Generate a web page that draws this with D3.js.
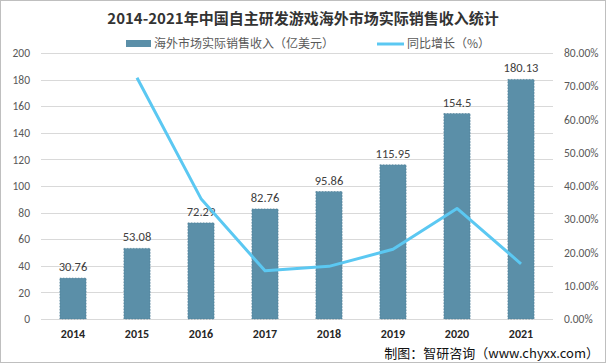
<!DOCTYPE html>
<html><head><meta charset="utf-8">
<script src="https://cdn.jsdelivr.net/npm/d3@7"></script>
<style>
html,body{margin:0;padding:0;background:#fff;}
svg text{font-family:"Microsoft YaHei","Noto Sans CJK SC","DejaVu Sans",sans-serif;}
</style></head>
<body>
<svg id="c" width="606" height="364"></svg>
<script>
const years = ["2014","2015","2016","2017","2018","2019","2020","2021"];
const revenue = [30.76,53.08,72.29,82.76,95.86,115.95,154.5,180.13];
const growth = [null,72.56,36.19,14.48,15.83,20.96,33.25,16.59];
const leftTicks = [0,20,40,60,80,100,120,140,160,180,200];
const rightTicks = [0,10,20,30,40,50,60,70,80];
const title = "2014-2021年中国自主研发游戏海外市场实际销售收入统计";
const legendBar = "海外市场实际销售收入（亿美元）";
const legendLine = "同比增长（%）";
const source = "制图：智研咨询（www.chyxx.com）";

const svg = d3.select("#c");
const W = 606, H = 364;
const m = {l:41, r:53, t:53, b:45};
const x0 = m.l, x1 = W - m.r;

svg.append("rect").attr("x",0.5).attr("y",0.5).attr("width",W-1).attr("height",H-2)
  .attr("fill","#fff").attr("stroke","#bfbfbf");

const x = d3.scaleBand().domain(years).range([x0,x1]).paddingInner(0.59).paddingOuter(0.295);
const yL = d3.scaleLinear().domain([0,200]).range([319,53]);
const yR = d3.scaleLinear().domain([0,80]).range([319,53]);

// gridlines
svg.append("g").selectAll("line").data(leftTicks).join("line")
  .attr("x1",x0).attr("x2",x1).attr("y1",d=>Math.round(yL(d))+0.5).attr("y2",d=>Math.round(yL(d))+0.5)
  .attr("stroke","#d9d9d9").attr("stroke-width",1);

// left axis
const la = svg.append("g").attr("transform",`translate(${x0},0)`)
  .call(d3.axisLeft(yL).tickValues(leftTicks).tickSize(0).tickPadding(11));
la.select(".domain").remove();
la.selectAll("text").attr("fill","#595959").style("font-size","11.5px").style("font-family","Calibri,Carlito,'Liberation Sans',sans-serif");

// right axis
const ra = svg.append("g").attr("transform",`translate(${x1},0)`)
  .call(d3.axisRight(yR).tickValues(rightTicks).tickSize(0).tickPadding(11).tickFormat(d=>d.toFixed(2)+"%"));
ra.select(".domain").remove();
ra.selectAll("text").attr("fill","#595959").style("font-size","11.5px").style("font-family","Calibri,Carlito,'Liberation Sans',sans-serif");

// x axis
const xa = svg.append("g").attr("transform",`translate(0,319)`)
  .call(d3.axisBottom(x).tickSize(0).tickPadding(10));
xa.select(".domain").remove();
xa.selectAll("text").attr("fill","#262626").style("font-size","12px").style("font-weight","bold").style("font-family","Calibri,Carlito,'Liberation Sans',sans-serif");

// bars
svg.append("g").selectAll("rect").data(revenue).join("rect")
  .attr("x",(d,i)=>x(years[i])).attr("width",x.bandwidth())
  .attr("y",d=>yL(d)).attr("height",d=>yL(0)-yL(d))
  .attr("fill","#5b8fa8").attr("stroke","#4a7890").attr("stroke-width",0.6).attr("stroke-dasharray","1.5,1.5");

// bar labels
svg.append("g").selectAll("text").data(revenue).join("text")
  .attr("x",(d,i)=>x(years[i])+x.bandwidth()/2).attr("y",d=>yL(d)-7)
  .attr("text-anchor","middle").attr("fill","#404040").style("font-size","12.5px")
  .style("font-family","Calibri,Carlito,'Liberation Sans',sans-serif")
  .text(d=>d);

// line
const pts = growth.map((g,i)=>({g,i})).filter(d=>d.g!==null);
svg.append("path").datum(pts)
  .attr("d",d3.line().x(d=>x(years[d.i])+x.bandwidth()/2).y(d=>yR(d.g)))
  .attr("fill","none").attr("stroke","#5bc8f2").attr("stroke-width",3).attr("stroke-linejoin","round");

// title
svg.append("text").attr("x",303).attr("y",24).attr("text-anchor","middle")
  .attr("fill","#333").style("font-size","15px").style("font-weight","bold").text(title);

// legend
svg.append("rect").attr("x",126).attr("y",40).attr("width",25).attr("height",7).attr("fill","#5b8fa8");
svg.append("text").attr("x",154).attr("y",48).attr("fill","#595959").style("font-size","12px").text(legendBar);
svg.append("line").attr("x1",377).attr("x2",404).attr("y1",44).attr("y2",44).attr("stroke","#5bc8f2").attr("stroke-width",3);
svg.append("text").attr("x",407).attr("y",48).attr("fill","#595959").style("font-size","12px").text(legendLine);

// source
svg.append("text").attr("x",599).attr("y",358).attr("text-anchor","end")
  .attr("fill","#111").style("font-size","13px").text(source);
</script>
</body></html>
